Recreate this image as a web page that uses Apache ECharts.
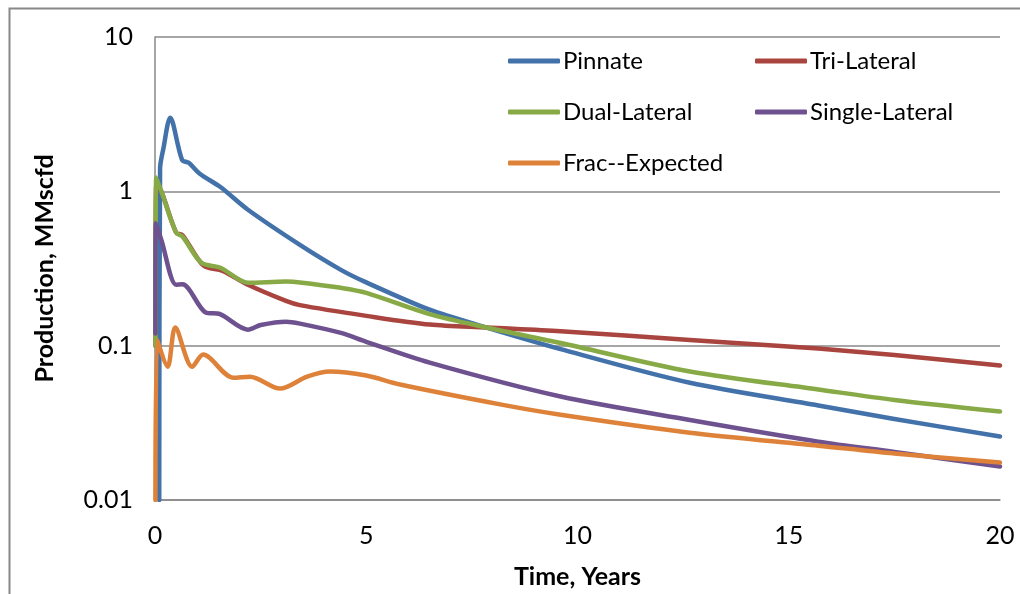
<!DOCTYPE html>
<html>
<head>
<meta charset="utf-8">
<script src="https://cdn.jsdelivr.net/npm/echarts@6/dist/echarts.min.js"></script>
<style>
html,body{margin:0;padding:0;background:#fff;}
#chart{width:1020px;height:594px;}
</style>
</head>
<body>
<div id="chart"></div>
<script>
// ---- data ----
const seriesNames = ['Pinnate', 'Tri-Lateral', 'Dual-Lateral', 'Single-Lateral', 'Frac--Expected'];

const pinnateT = [0.1, 0.12, 0.2, 0.36, 0.64, 0.8, 1.06, 1.54, 2.2, 3.43, 4.4, 5, 6.5, 7.85, 9.6, 12.66, 15.7, 17.5, 20];
const pinnateV = [0.01, 1.4, 1.9, 3.0, 1.6, 1.53, 1.3, 1.07, 0.76, 0.45, 0.31, 0.257, 0.171, 0.131, 0.095, 0.0575, 0.041, 0.0335, 0.0258];

const triT = [0.01, 0.03, 0.15, 0.5, 0.65, 1.15, 1.6, 2.2, 3.1, 3.43, 5, 6.5, 7.85, 9.6, 12.66, 15.7, 17.5, 20];
const triV = [0.1, 1.1, 1.0, 0.54, 0.52, 0.33, 0.305, 0.248, 0.195, 0.183, 0.156, 0.137, 0.131, 0.124, 0.109, 0.0957, 0.087, 0.0743];

const dualT = [0.01, 0.03, 0.15, 0.5, 0.65, 1.1, 1.55, 2.2, 3.1, 3.43, 4.4, 5, 6.5, 7.85, 9.6, 12.66, 15.7, 17.5, 20];
const dualV = [0.1, 1.23, 1.0, 0.54, 0.51, 0.344, 0.32, 0.256, 0.26, 0.257, 0.237, 0.22, 0.16, 0.131, 0.104, 0.068, 0.052, 0.0445, 0.0374];

const singleT = [0.01, 0.02, 0.15, 0.5, 0.65, 1.2, 1.54, 2.2, 2.5, 3.1, 3.43, 4.4, 5, 6.5, 9.6, 12.66, 15.7, 17.5, 20];
const singleV = [0.12, 0.62, 0.485, 0.248, 0.25, 0.164, 0.16, 0.127, 0.136, 0.143, 0.139, 0.121, 0.106, 0.0776, 0.0468, 0.033, 0.0239, 0.0205, 0.0165];

const fracT = [0.01, 0.05, 0.3, 0.48, 0.88, 1.14, 1.85, 2.25, 2.96, 3.6, 4.14, 5, 5.8, 8.2, 9.6, 12.66, 15.7, 17.5, 20];
const fracV = [0.01, 0.109, 0.073, 0.131, 0.073, 0.0875, 0.062, 0.063, 0.0527, 0.063, 0.068, 0.064, 0.056, 0.0415, 0.0357, 0.0273, 0.0225, 0.02, 0.0175];

const yTickLabels = ['0.01', '0.1', '1', '10'];
const xTickLabels = ['0', '5', '10', '15', '20'];

const colors = ['#4372AA', '#A9443F', '#88AA46', '#6E528F', '#DE823A'];

// ---- build ----
function pairs(t, v) { return t.map((x, i) => [x, v[i]]); }
const allT = [pinnateT, triT, dualT, singleT, fracT];
const allV = [pinnateV, triV, dualV, singleV, fracV];

const FONT = 'Lato';
const legendCommon = {
  orient: 'vertical', top: 44, itemGap: 27,
  itemWidth: 52, itemHeight: 5, icon: 'roundRect',
  textStyle: { fontFamily: FONT, fontSize: 24, color: '#000', padding: [0, 0, 0, -2] }
};
const chart = echarts.init(document.getElementById('chart'));
chart.setOption({
  animation: false,
  color: colors,
  grid: { left: 155, right: 20, top: 37, bottom: 94, containLabel: false },
  graphic: [{
    type: 'rect', left: 7, top: 6, silent: true,
    shape: { width: 1030, height: 600 },
    style: { fill: 'none', stroke: '#888', lineWidth: 2 }
  }],
  legend: [
    Object.assign({ data: [seriesNames[0], seriesNames[2], seriesNames[4]], left: 503 }, legendCommon),
    Object.assign({ data: [seriesNames[1], seriesNames[3]], left: 750 }, legendCommon)
  ],
  xAxis: {
    type: 'value', min: 0, max: 20, interval: 5,
    name: 'Time, Years', nameLocation: 'middle', nameGap: 64,
    nameTextStyle: { fontFamily: FONT, fontSize: 25, fontWeight: 'bold', color: '#000' },
    axisLine: { lineStyle: { color: '#888', width: 1.5 } },
    axisTick: { show: false },
    splitLine: { show: false },
    axisLabel: {
      fontFamily: FONT, fontSize: 25, color: '#000', margin: 23,
      formatter: function (v) { return xTickLabels[Math.round(v / 5)]; }
    }
  },
  yAxis: {
    type: 'log', logBase: 10, min: 0.01, max: 10,
    name: 'Production, MMscfd', nameLocation: 'middle', nameGap: 98,
    nameTextStyle: { fontFamily: FONT, fontSize: 25, fontWeight: 'bold', color: '#000' },
    axisLine: { show: true, lineStyle: { color: '#888', width: 1.5 } },
    axisTick: { show: false },
    splitLine: { show: true, lineStyle: { color: '#888', width: 1.5 } },
    minorSplitLine: { show: false },
    axisLabel: {
      fontFamily: FONT, fontSize: 25, color: '#000', margin: 22,
      formatter: function (v) { return yTickLabels[Math.round(Math.log10(v)) + 2]; }
    }
  },
  series: seriesNames.map((n, i) => ({
    name: n, type: 'line', data: pairs(allT[i], allV[i]),
    smooth: 0.3, symbol: 'none', showSymbol: false,
    lineStyle: { width: 4.5, color: colors[i], cap: 'round', join: 'round' },
    itemStyle: { color: colors[i] }
  }))
});
</script>
</body>
</html>
